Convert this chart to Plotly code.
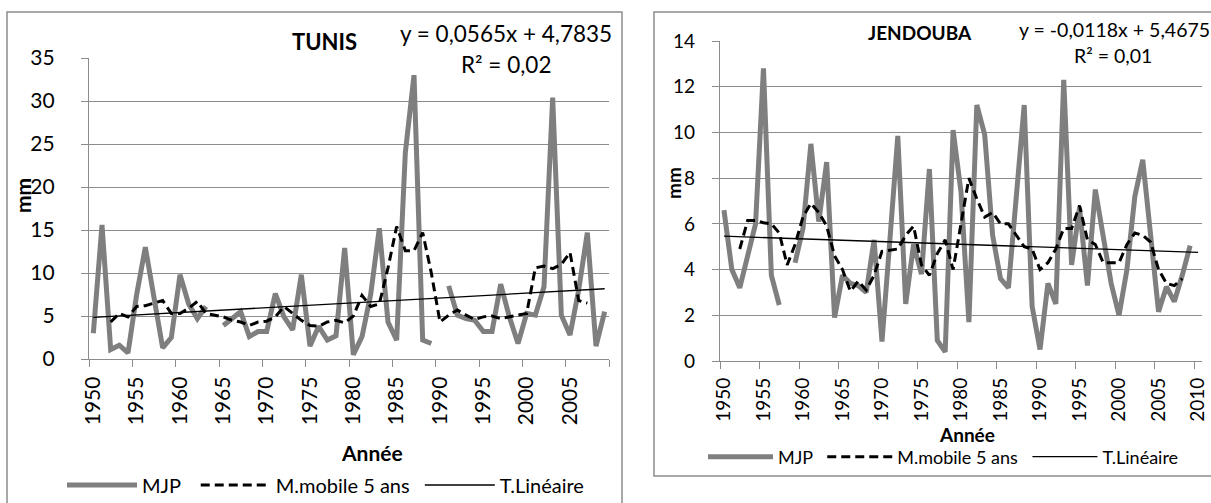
import plotly.graph_objects as go

W, H = 1211, 503

# ---------------- data ----------------
years_tunis = [str(y) for y in range(1950, 2010)]
mjp_tunis = [3.0, 15.6, 1.1, 1.6, 0.7, 7.5, 13.0, 7.2, 1.3, 2.5,
             9.8, 6.4, 4.7, 6.1, None, 3.9, 4.7, 5.5, 2.6, 3.2,
             3.2, 7.6, 4.9, 3.4, 9.8, 1.5, 3.8, 2.2, 2.7, 12.9,
             0.5, 2.6, 7.5, 15.2, 4.3, 2.2, 24.0, 33.0, 2.2, 1.8,
             None, 8.5, 5.1, 4.7, 4.5, 3.2, 3.2, 8.7, 4.9, 1.8,
             5.3, 5.1, 8.4, 30.4, 5.1, 2.8, 8.0, 14.7, 1.5, 5.5]
mm5_tunis = [None, None, 4.3, 5.3, 4.9, 6.1, 6.2, 6.5, 6.8, 5.3,
             5.3, 5.9, 6.7, 5.3, 5.1, 4.9, 4.5, 4.3, 3.9, 4.3,
             4.4, 4.9, 6.1, 5.3, 4.5, 3.9, 3.8, 4.3, 4.5, 4.2,
             5.0, 7.4, 6.1, 6.4, 10.6, 15.4, 12.6, 12.6, 14.7, 10.0,
             4.3, 5.1, 5.7, 5.1, 4.6, 4.9, 5.0, 4.7, 4.9, 5.1,
             5.3, 10.6, 10.8, 10.5, 11.0, 12.4, 6.8, 6.5, None, None]
trend_tunis_x = ["1950", "2009"]
trend_tunis_y = [4.84, 8.17]

years_jend = [str(y) for y in range(1950, 2011)]
mjp_jend = [6.6, 4.0, 3.2, 4.6, 6.0, 12.8, 3.75, 2.45, None, 4.3,
            5.8, 9.5, 6.1, 8.7, 1.9, 3.75, 3.4, 3.3, 3.0, 5.3,
            0.85, 5.3, 9.85, 2.5, 5.1, 3.8, 8.4, 0.9, 0.4, 10.1,
            7.4, 1.7, 11.2, 9.9, 5.5, 3.6, 3.2, 7.2, 11.2, 2.4,
            0.5, 3.4, 2.5, 12.3, 4.2, 6.7, 3.3, 7.5, 5.3, 3.4,
            2.0, 4.0, 7.2, 8.8, 5.5, 2.15, 3.25, 2.6, 3.75, 5.05, None]
mm5_jend = [None, None, 4.9, 6.15, 6.15, 6.05, 6.0, 5.6, 4.2, 5.1,
            6.3, 6.9, 6.5, 5.9, 4.6, 4.0, 3.05, 3.5, 3.1, 3.75,
            4.8, 4.85, 4.9, 5.5, 5.9, 4.2, 3.75, 4.7, 5.3, 4.0,
            6.1, 8.0, 7.1, 6.3, 6.5, 6.0, 6.0, 5.5, 5.0, 4.9,
            4.0, 4.3, 4.9, 5.8, 5.8, 6.8, 5.3, 5.1, 4.3, 4.3,
            4.3, 5.1, 5.6, 5.5, 5.2, 4.0, 3.4, 3.3, 3.6, None, None]
trend_jend_x = ["1950", "2010"]
trend_jend_y = [5.46, 4.75]

series_names = ["MJP", "M.mobile 5 ans", "T.Linéaire"]

# ---------------- helpers ----------------
def px(x):
    return x / W

def py(y):
    return 1 - y / H

FONT = "Lato"
GRAY = "#7f7f7f"
GRID = "#8c8c8c"
NB = "\u00a0"

fig = go.Figure()

def add_panel(xa, ya, legend, years, mjp, mm5, tx, ty, pads):
    fig.add_trace(go.Scatter(x=years, y=mjp, mode="lines", name=series_names[0] + NB * pads[0],
                             line=dict(color=GRAY, width=5), connectgaps=False,
                             xaxis=xa, yaxis=ya, legend=legend))
    fig.add_trace(go.Scatter(x=years, y=mm5, mode="lines", name=series_names[1] + NB * pads[1],
                             line=dict(color="black", width=3, dash="9px,5px"),
                             connectgaps=False, xaxis=xa, yaxis=ya, legend=legend))
    fig.add_trace(go.Scatter(x=tx, y=ty, mode="lines", name=series_names[2],
                             line=dict(color="black", width=1.3),
                             xaxis=xa, yaxis=ya, legend=legend))

add_panel("x", "y", "legend", years_tunis, mjp_tunis, mm5_tunis,
          trend_tunis_x, trend_tunis_y, (2, 1))
add_panel("x2", "y2", "legend2", years_jend, mjp_jend, mm5_jend,
          trend_jend_x, trend_jend_y, (1, 1))

common_x = dict(type="category", tickson="boundaries", tickmode="linear", tick0=0, dtick=5,
                tickangle=-90, ticks="outside", ticklen=7, tickcolor=GRID, tickwidth=1.3,
                showline=True, linecolor=GRID, linewidth=1.3, showgrid=False, zeroline=False,
                ticklabelstandoff=8, automargin=False)
common_y = dict(ticks="outside", ticklen=7, tickcolor=GRID, tickwidth=1.3,
                showline=True, linecolor=GRID, linewidth=1.3, showgrid=True,
                gridcolor=GRID, gridwidth=1.3, zeroline=False, automargin=False)

fig.update_layout(
    width=W, height=H, margin=dict(l=0, r=0, t=0, b=0, autoexpand=False),
    paper_bgcolor="white", plot_bgcolor="white",
    font=dict(family=FONT, color="black"),
    xaxis=dict(common_x, domain=[px(89), px(609)],
               categoryorder="array", categoryarray=years_tunis,
               range=[-0.5, len(years_tunis) - 0.5],
               tickfont=dict(size=21, family=FONT),
               anchor="y"),
    yaxis=dict(common_y, domain=[py(359), py(58)], range=[0, 35], dtick=5,
               tickfont=dict(size=21, family=FONT), ticklabelstandoff=22,
               anchor="x"),
    xaxis2=dict(common_x, domain=[px(720), px(1202)],
                categoryorder="array", categoryarray=years_jend,
                range=[-0.5, len(years_jend) - 0.5],
                tickfont=dict(size=19, family=FONT),
                anchor="y2"),
    yaxis2=dict(common_y, domain=[py(361), py(41)], range=[0, 14], dtick=2,
                tickfont=dict(size=19, family=FONT), ticklabelstandoff=13,
                anchor="x2"),
    legend=dict(orientation="h", x=px(62), xanchor="left", y=py(485), yanchor="middle",
                xref="container", yref="container",
                font=dict(size=20, family=FONT), itemwidth=70, bgcolor="rgba(0,0,0,0)"),
    legend2=dict(orientation="h", x=px(703), xanchor="left", y=py(457), yanchor="middle",
                 xref="container", yref="container",
                 font=dict(size=18, family=FONT), itemwidth=65, bgcolor="rgba(0,0,0,0)"),
    showlegend=True,
)

# chart frames
fig.add_shape(type="rect", xref="paper", yref="paper",
              x0=px(7), x1=px(622), y0=py(510), y1=py(12),
              line=dict(color="#8c8c8c", width=1.5), layer="below")
fig.add_shape(type="rect", xref="paper", yref="paper",
              x0=px(654), x1=px(1215), y0=py(476), y1=py(12),
              line=dict(color="#8c8c8c", width=1.5), layer="below")

def ann(x, y, text, size, bold=False, angle=0):
    fig.add_annotation(x=px(x), y=py(y), xref="paper", yref="paper",
                       text=(f"<b>{text}</b>" if bold else text), textangle=angle,
                       showarrow=False, xanchor="center", yanchor="middle",
                       font=dict(size=size, family=FONT, color="black"))

ann(324, 42, "TUNIS", 22, bold=True)
ann(506, 33, "y = 0,0565x + 4,7835", 22.5)
ann(506, 65, "R² = 0,02", 22.5)
ann(22, 196, "mm", 21, bold=True, angle=-90)
ann(372, 452, "Année", 21, bold=True)

ann(920, 32, "JENDOUBA", 19, bold=True)
ann(1114, 30, "y = -0,0118x + 5,4675", 19.5)
ann(1113, 56, "R² = 0,01", 19.5)
ann(673, 183, "mm", 19, bold=True, angle=-90)
ann(967, 434, "Année", 19, bold=True)

fig.write_html("out.html")
